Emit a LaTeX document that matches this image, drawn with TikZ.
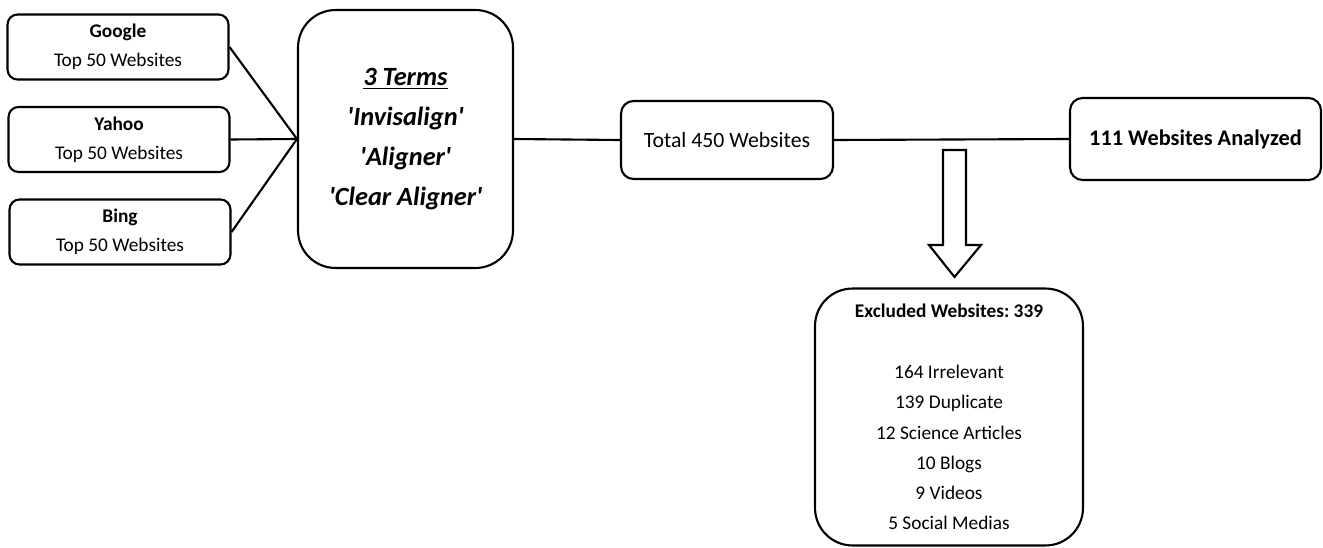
\documentclass[tikz,border=0pt]{standalone}
\usepackage{fontspec}
\setmainfont{Carlito}
\usepackage{tikz}
\usetikzlibrary{positioning,calc}
\frenchspacing

\begin{document}
\begin{tikzpicture}[x=0.02cm, y=-0.02cm,
    box/.style={rectangle, draw=black, fill=white, line width=1.2pt, align=center, inner sep=0pt},
    srcbox/.style={box, rounded corners=0.2cm, minimum width=4.42cm, minimum height=1.3cm, font=\fontsize{11}{16.7}\selectfont},
    termbox/.style={box, rounded corners=0.75cm, minimum width=4.3cm, minimum height=5.16cm, font=\fontsize{15}{22.7}\selectfont\bfseries\itshape},
    countbox/.style={box, rounded corners=0.25cm, minimum height=1.56cm},
    exclbox/.style={box, rounded corners=0.75cm, minimum width=5.36cm, minimum height=5.14cm, font=\fontsize{11}{17.2}\selectfont},
    link/.style={line width=1.2pt},
  ]
    \useasboundingbox (0,0) rectangle (1323,548);
    % search engines
    \node[srcbox] (google) at (118,47) {\textbf{Google}\\Top 50 Websites};
    \node[srcbox] (yahoo) at (119,139.5) {\textbf{Yahoo}\\Top 50 Websites};
    \node[srcbox] (bing) at (120,232) {\textbf{Bing}\\Top 50 Websites};
    % search terms
    \node[termbox] (terms) at (405.5,139) {\underline{3 Terms}\\\textquotesingle Invisalign\textquotesingle\\\textquotesingle Aligner\textquotesingle\\\textquotesingle Clear Aligner\textquotesingle};
    % counts
    \node[countbox, minimum width=4.24cm, font=\fontsize{12.4}{15}\selectfont] (total) at (727,140) {Total 450 Websites};
    \node[countbox, minimum width=5.02cm, minimum height=1.64cm, font=\fontsize{12.7}{15}\selectfont\bfseries] (analyzed) at (1195.5,139) {111 Websites Analyzed};
    \node[exclbox] (excluded) at (949,417) {\textbf{Excluded Websites: 339}\\[17.4pt]164 Irrelevant\\139 Duplicate\\12 Science Articles\\10 Blogs\\9 Videos\\5 Social Medias};
    % connectors
    \draw[link] (google.east) -- (terms.west);
    \draw[link] (yahoo.east) -- (terms.west);
    \draw[link] (bing.east) -- (terms.west);
    \draw[link] (terms.east) -- (total.west);
    \draw[link] (total.east) -- (analyzed.west);
    % block arrow down to the excluded box
    \coordinate (arr) at (954.5,150);
    \draw[link, fill=white] (arr) ++(-11.5,0) -- ++(23,0) -- ++(0,95) -- ++(15,0)
      -- ++(-26.5,32) -- ++(-25.5,-32) -- ++(14,0) -- cycle;
  \end{tikzpicture}
\end{document}
